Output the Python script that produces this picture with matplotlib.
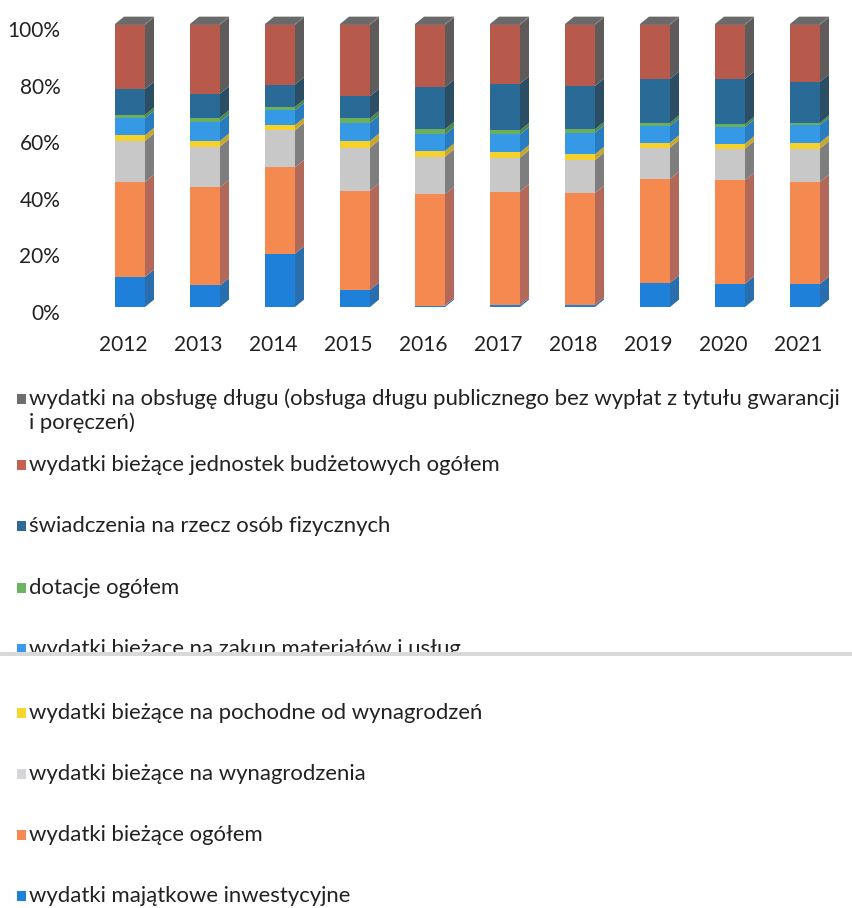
import matplotlib
matplotlib.use("Agg")
import matplotlib.pyplot as plt
from matplotlib.patches import Rectangle, Polygon
from matplotlib.transforms import ScaledTranslation
import numpy as np

plt.rcParams['font.family'] = ['Lato', 'DejaVu Sans']

years = ['2012', '2013', '2014', '2015', '2016', '2017', '2018', '2019', '2020', '2021']

# series, bottom to top (percent of total)
majatkowe     = [10.6, 7.6, 18.8, 6.1, 0.5, 0.6, 0.6, 8.5, 8.2, 8.2]
biezace       = [33.6, 34.7, 30.5, 35.0, 39.4, 40.2, 39.7, 36.7, 36.6, 36.0]
wynagrodzenia = [14.5, 14.4, 13.1, 15.2, 13.2, 12.0, 11.6, 11.1, 11.2, 11.8]
pochodne      = [2.0, 2.0, 1.9, 2.4, 2.1, 1.8, 2.1, 1.8, 1.7, 2.1]
zakup         = [6.0, 6.8, 5.2, 6.4, 5.8, 6.4, 7.6, 5.9, 5.9, 6.2]
dotacje       = [1.2, 1.4, 1.2, 1.6, 1.8, 1.4, 1.2, 1.1, 1.0, 0.8]
swiadczenia   = [9.1, 8.5, 7.9, 7.8, 14.9, 16.5, 15.3, 15.5, 16.0, 14.5]
jednostki     = [22.7, 24.3, 21.1, 25.2, 22.0, 20.8, 21.6, 19.1, 19.1, 20.1]
dlug          = [0.3, 0.3, 0.3, 0.3, 0.3, 0.3, 0.3, 0.3, 0.3, 0.3]

series = [majatkowe, biezace, wynagrodzenia, pochodne, zakup, dotacje,
          swiadczenia, jednostki, dlug]
front_colors = ['#1F80DA', '#F58A50', '#C8C8C8', '#F6D12C', '#3599E6',
                '#6BAE5B', '#2A6A96', '#B75A4C', '#747474']
side_colors = ['#2A6EAE', '#B3695A', '#7E7E7E', '#C7A82E', '#2A7CC0',
               '#4D8A47', '#2C4E65', '#5F5B5B', '#555555']

legend_labels = [
    'wydatki na obsługę długu (obsługa długu publicznego bez wypłat z tytułu gwarancji\ni poręczeń)',
    'wydatki bieżące jednostek budżetowych ogółem',
    'świadczenia na rzecz osób fizycznych',
    'dotacje ogółem',
    'wydatki bieżące na zakup materiałów i usług',
    'wydatki bieżące na pochodne od wynagrodzeń',
    'wydatki bieżące na wynagrodzenia',
    'wydatki bieżące ogółem',
    'wydatki majątkowe inwestycyjne',
]
legend_colors = ['#6E6E6E', '#C4614F', '#2F6A96', '#6CB462', '#3A9BEA',
                 '#F7D52E', '#D6D6DA', '#F58A55', '#1F80DA']

W, H = 853, 908
fig = plt.figure(figsize=(W / 100, H / 100), dpi=100)
ax = fig.add_axes([70 / W, (H - 307) / H, (835 - 70) / W, (307 - 24) / H])
ax.set_xlim(-0.8, 9.4)
ax.set_ylim(0, 100)
for s in ax.spines.values():
    s.set_visible(False)

bw = 0.4
dx = 0.12
dy = 2.6
x = np.arange(len(years))
bottom = np.zeros(len(years))
for vals, fc, sc in zip(series, front_colors, side_colors):
    vals = np.array(vals, dtype=float)
    for i in range(len(years)):
        b, h = bottom[i], vals[i]
        ax.add_patch(Rectangle((x[i] - bw / 2, b), bw, h, facecolor=fc,
                               edgecolor='none', clip_on=False))
        xr = x[i] + bw / 2
        ax.add_patch(Polygon([(xr, b), (xr + dx, b + dy), (xr + dx, b + h + dy), (xr, b + h)],
                             closed=True, facecolor=sc, edgecolor='none', clip_on=False))
    bottom += vals

for i in range(len(years)):
    t = bottom[i]
    xl = x[i] - bw / 2
    ax.add_patch(Polygon([(xl, t), (xl + dx, t + dy), (xl + bw + dx, t + dy), (xl + bw, t)],
                         closed=True, facecolor='#6A6A6A', edgecolor='none', clip_on=False))

ax.set_yticks([0, 20, 40, 60, 80, 100])
ax.set_yticklabels(['0%', '20%', '40%', '60%', '80%', '100%'], fontsize=15, color='#222222')
ax.set_xticks(x)
ax.set_xticklabels(years, fontsize=15, color='#222222')
ax.tick_params(axis='both', length=0)
ax.tick_params(axis='y', pad=7)
ax.tick_params(axis='x', pad=20)
for lab in ax.get_yticklabels():
    lab.set_transform(lab.get_transform() + ScaledTranslation(0, -5 / 100, fig.dpi_scale_trans))
for lab in ax.get_xticklabels():
    lab.set_transform(lab.get_transform() + ScaledTranslation(-7 / 100, 0, fig.dpi_scale_trans))

# legend drawn manually
fs = 15.9
ys = [399, 465, 526, 588, 649, 713, 774, 835, 896]
for lab, col, yy in zip(legend_labels, legend_colors, ys):
    fig.patches.append(Rectangle((17 / W, 1 - (yy + 5) / H), 9 / W, 10 / H,
                                 transform=fig.transFigure, facecolor=col, edgecolor='none'))
    if '\n' in lab:
        l1, l2 = lab.split('\n')
        fig.text(29 / W, 1 - yy / H, l1, fontsize=fs, color='#222222', va='center', ha='left')
        fig.text(29 / W, 1 - 423 / H, l2, fontsize=fs, color='#222222', va='center', ha='left')
    else:
        fig.text(29 / W, 1 - yy / H, lab, fontsize=fs, color='#222222', va='center', ha='left')

# scan artifact line
fig.patches.append(Rectangle((0, 1 - 659 / H), 1, 6 / H, transform=fig.transFigure,
                             facecolor='white', edgecolor='none', zorder=5))
fig.patches.append(Rectangle((0, 1 - 656 / H), 1, 4 / H, transform=fig.transFigure,
                             facecolor='#D9D9D9', edgecolor='none', zorder=6))

fig.savefig('out.png', dpi=100)
